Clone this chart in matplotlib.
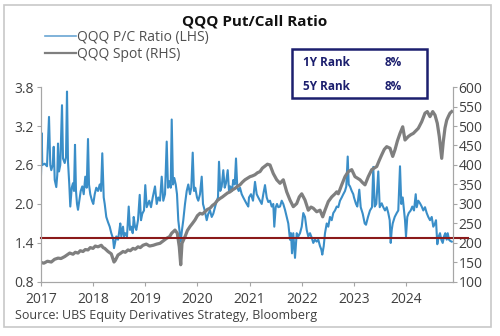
import matplotlib
matplotlib.use("Agg")
import matplotlib.pyplot as plt
import matplotlib.dates as mdates
import matplotlib.transforms as mtransforms
from matplotlib.lines import Line2D
from matplotlib.patches import Rectangle
import numpy as np
import pandas as pd

plt.rcParams["font.family"] = ["Open Sans", "DejaVu Sans"]

# days since 2017-01-01
pc_day = [0, 3, 5, 9, 26, 42, 56, 65, 72, 82, 89, 96, 107, 114, 119, 126, 135, 147, 154, 166,
          175, 182, 189, 198, 205, 215, 224, 231, 238, 245, 252, 259, 268, 278, 289, 299, 310,
          320, 329, 336, 345, 357, 366, 376, 387, 399, 411, 420, 429, 439, 446, 457, 469, 481,
          492, 504, 511, 518, 527, 539, 546, 555, 562, 574, 581, 590, 602, 614, 623, 632, 642,
          649, 658, 667, 679, 691, 700, 709, 721, 730, 740,
          758, 770, 782, 798, 810, 821, 833, 845, 856, 868, 880, 889, 898, 908, 915, 924, 933,
          943, 952, 961, 971, 978, 987, 996, 1008, 1020, 1031, 1043, 1052, 1062, 1071, 1080,
          1092, 1101, 1113, 1125, 1134, 1146, 1160, 1171, 1183, 1195, 1206, 1218, 1230, 1239,
          1246, 1255, 1265, 1276, 1286, 1295, 1307, 1316, 1325, 1337, 1346, 1356, 1365, 1374,
          1384, 1393, 1405, 1416, 1428, 1440, 1451,
          1456, 1470, 1484, 1498, 1510, 1521, 1533, 1545, 1556, 1568, 1580, 1591, 1603, 1615,
          1626, 1633, 1643, 1652, 1661, 1673, 1685, 1696, 1708, 1720, 1731, 1743, 1750, 1757,
          1766, 1778, 1790, 1801, 1813, 1825, 1836, 1848, 1860, 1871, 1883, 1895, 1906, 1918,
          1930, 1941, 1953, 1962, 1969, 1979, 1988, 2000, 2011, 2023, 2035, 2046, 2058, 2070,
          2081, 2093, 2105, 2116, 2128, 2137, 2147, 2154, 2163, 2175, 2186,
          2191, 2205, 2214, 2228, 2238, 2252, 2266, 2275, 2289, 2303, 2317, 2326, 2336, 2347,
          2361, 2371, 2385, 2396, 2408, 2420, 2431, 2441, 2448, 2455, 2462, 2476, 2490, 2501,
          2513, 2522, 2532, 2541, 2548, 2555, 2564, 2574, 2588, 2599, 2611, 2623, 2630, 2641,
          2653, 2665, 2676, 2688, 2700, 2711, 2723, 2735, 2746, 2758, 2765, 2774, 2784, 2793,
          2802, 2812, 2821, 2830, 2840, 2847, 2856, 2865, 2875]
pc_ratio = [2.45, 2.68, 3.09, 2.6, 2.62, 2.58, 3.34, 2.6, 2.52, 2.6, 2.88, 2.37, 2.26, 2.45, 2.93,
            2.5, 2.6, 3.52, 2.7, 2.63, 2.72, 3.73, 2.65, 2.3, 1.96, 2.25, 2.32, 2.2, 2.91, 2.2,
            2.0, 1.91, 2.05, 2.2, 2.27, 2.15, 2.42, 2.25, 3.0, 2.3, 2.15, 2.05, 2.0, 2.15, 2.25,
            2.2, 2.3, 2.2, 2.78, 2.1, 2.0, 1.8, 1.72, 1.65, 1.55, 1.47, 1.32, 1.4, 1.5, 1.45,
            1.55, 1.7, 1.5, 1.65, 1.5, 1.55, 1.5, 1.96, 1.6, 1.65, 1.55, 1.8, 1.65, 1.6, 1.75,
            2.14, 1.75, 1.85, 1.9, 2.29, 1.95,
            2.05, 1.95, 2.1, 2.27, 2.0, 2.1, 2.05, 2.42, 2.05, 2.15, 2.96, 2.25, 2.35, 2.25, 3.3,
            2.3, 2.4, 2.3, 2.15, 1.75, 1.55, 1.42, 1.6, 1.75, 2.0, 2.2, 2.3, 2.15, 2.25, 2.79,
            2.2, 2.25, 2.1, 2.05, 2.15, 2.42, 2.0, 1.9, 1.75, 1.85, 1.9, 1.8, 1.85, 1.95, 2.05,
            2.1, 2.65, 2.2, 2.27, 2.52, 2.25, 2.32, 2.52, 2.2, 2.27, 2.2, 2.37, 2.3, 2.7, 2.25,
            2.2, 2.25, 2.15, 2.1, 2.05, 2.0, 1.96,
            2.1, 2.15, 2.05, 2.34, 2.15, 2.1, 2.05, 2.0, 2.15, 2.29, 2.1, 2.03, 2.05, 1.96, 2.0,
            1.65, 1.95, 2.0, 1.95, 1.96, 2.05, 2.0, 1.91, 1.8, 1.7, 1.45, 1.55, 1.24, 1.55, 1.17,
            1.55, 1.5, 1.55, 1.65, 1.86, 1.8, 1.6, 1.5, 1.55, 1.48, 1.4, 1.45, 1.42, 1.45, 1.35,
            1.3, 1.22, 1.35, 1.55, 1.7, 1.65, 1.8, 1.75, 1.86, 1.9, 1.96, 1.95, 2.05, 2.1, 2.15,
            2.2, 2.27, 2.73, 2.3, 2.27, 2.2, 2.15,
            2.1, 2.0, 1.96, 2.22, 1.95, 1.85, 1.7, 1.68, 1.8, 1.9, 1.95, 2.57, 1.96, 2.0, 2.5,
            1.95, 2.01, 1.95, 1.9, 1.95, 1.86, 1.75, 1.4, 1.6, 1.7, 1.8, 1.86, 1.9, 2.58, 2.0,
            2.1, 1.9, 1.75, 1.5, 1.8, 1.86, 1.9, 1.96, 1.9, 2.15, 1.95, 2.05, 2.01, 1.96, 1.9,
            1.95, 1.86, 1.8, 1.75, 1.8, 1.65, 1.7, 1.75, 1.38, 1.5, 1.55, 1.45, 1.4, 1.5, 1.55,
            1.45, 1.55, 1.45, 1.43, 1.42]

spot_day = [0, 20, 45, 72, 95, 119, 140, 166, 185, 201, 224, 240, 259, 275, 294, 310, 329, 345,
            364, 380, 399, 422, 435, 446, 469, 492, 511, 520, 539, 556, 574, 590, 609, 625,
            644, 660, 679, 695, 714, 737, 760, 786, 810, 833, 855, 880, 900, 915, 938, 954,
            968, 978, 987, 1008, 1025, 1043, 1060, 1078, 1095, 1113, 1130, 1148, 1165, 1183,
            1200, 1218, 1235, 1253, 1270, 1288, 1305, 1323, 1340, 1358, 1375, 1393, 1410, 1428,
            1445, 1463, 1480, 1498, 1515, 1533, 1550, 1568, 1585, 1603, 1626, 1650, 1673, 1696,
            1720, 1743, 1766, 1790, 1808, 1825, 1848, 1871, 1890, 1906, 1930, 1953, 1972, 1988,
            2011, 2035, 2058, 2070, 2081, 2105, 2128, 2151, 2175, 2198, 2215, 2233, 2250, 2268,
            2291, 2315, 2333, 2350, 2368, 2385, 2403, 2420, 2443, 2462, 2478, 2495, 2513, 2532,
            2548, 2571, 2590, 2606, 2625, 2641, 2665, 2688, 2704, 2723, 2742, 2758, 2774, 2788,
            2805, 2816, 2828, 2840, 2852, 2863, 2875]
spot_px = [150, 148, 153, 151, 158, 161, 160, 165, 170, 174, 171, 176, 174, 180, 178, 183, 182,
           188, 186, 192, 190, 194, 188, 186, 178, 172, 151, 155, 169, 173, 178, 176, 182, 180,
           186, 184, 190, 188, 194, 197, 192, 194, 197, 199, 205, 212, 216, 225, 233, 225,
           190, 144, 199, 216, 232, 242, 250, 259, 270, 276, 274, 280, 286, 289, 296, 301,
           309, 314, 318, 323, 328, 331, 336, 340, 345, 349, 356, 362,
           366, 370, 372, 375, 380, 383, 392, 397, 402, 400, 378, 362, 353, 362,
           331, 310, 293, 301, 318, 326, 310, 284, 292, 289, 280, 284, 267, 284,
           306, 318, 326, 331, 326, 349, 370, 383, 388, 370, 366, 362, 355, 349,
           370, 388, 392, 396, 412, 426, 440, 447, 443, 422, 439, 462, 481, 498,
           464, 473, 478, 481, 488, 494, 511, 533, 537, 524, 537, 528, 507, 473,
           417, 460, 495, 515, 525, 533, 537]

threshold = 1.48
rank_labels = ["1Y Rank", "5Y Rank"]
rank_values = ["8%", "8%"]

start = pd.Timestamp("2017-01-01")
pc_dates = start + pd.to_timedelta(pc_day, unit="D")
spot_dates = start + pd.to_timedelta(spot_day, unit="D")

fig = plt.figure(figsize=(5, 3.36), dpi=100)
ax = fig.add_axes([0.082, 0.161, 0.824, 0.580])
ax2 = ax.twinx()

blue = "#3a8ec8"
grey = "#7f7f7f"
navy = "#1c1f6e"
axis_col = "#a6a6a6"
text_col = "#404040"

ax.plot(pc_dates, pc_ratio, color=blue, lw=1.5)
ax2.plot(spot_dates, spot_px, color=grey, lw=2.3)
trans = mtransforms.blended_transform_factory(ax.transAxes, ax.transData)
ax2.plot([0, 1.036], [threshold, threshold], color="#8b1a1a", lw=1.5,
         transform=trans, clip_on=False)

ax.set_xlim(start, start + pd.Timedelta(days=2884))
ax.set_ylim(0.8, 3.8)
ax2.set_ylim(100, 600)
ax.set_yticks(np.arange(0.8, 3.81, 0.6))
ax.set_yticklabels([f"{v:.1f}" for v in np.arange(0.8, 3.81, 0.6)])
ax2.set_yticks(np.arange(100, 601, 50))
ax.xaxis.set_major_locator(mdates.YearLocator())
ax.xaxis.set_major_formatter(mdates.DateFormatter("%Y"))

for a in (ax, ax2):
    for s in a.spines.values():
        s.set_color(axis_col)
    a.spines["top"].set_visible(False)
    a.tick_params(colors=axis_col, labelcolor=text_col, labelsize=10, length=3, width=0.8)
ax.tick_params(axis="y", pad=2)
ax2.tick_params(axis="y", pad=1)
ax.tick_params(axis="x", pad=4)

fig.text(0.51, 0.935, "QQQ Put/Call Ratio", ha="center", va="center",
         fontsize=11, fontweight="bold", color="#111111")

handles = [Line2D([], [], color="#6aa6d3", lw=1.2), Line2D([], [], color=grey, lw=1.6)]
fig.legend(handles, ["QQQ P/C Ratio (LHS)", "QQQ Spot (RHS)"], loc="upper left",
           bbox_to_anchor=(0.09, 0.91), frameon=False, fontsize=10, handlelength=2.2,
           handletextpad=0.1, labelspacing=0.12, borderaxespad=0, borderpad=0,
           labelcolor="#505050")

fig.add_artist(Rectangle((292 / 500, 1 - 98 / 336), 135 / 500, 49 / 336,
                         transform=fig.transFigure, fill=False, ec=navy, lw=1.8))
for i, (lab, val) in enumerate(zip(rank_labels, rank_values)):
    y = 1 - (62 + 24 * i) / 336
    fig.text(303 / 500, y, lab, ha="left", va="center", fontsize=8.5,
             fontweight="bold", color=navy)
    fig.text(385 / 500, y, val, ha="left", va="center", fontsize=8.5,
             fontweight="bold", color=navy)

fig.text(15 / 500, 1 - 316 / 336, "Source: UBS Equity Derivatives Strategy, Bloomberg",
         ha="left", va="center", fontsize=9, color=text_col)

fig.add_artist(Rectangle((4 / 500, 1 - 327 / 336), 487 / 500, 322 / 336,
                         transform=fig.transFigure, fill=False, ec="#c8c8c8", lw=1.2))

fig.savefig("out.png", dpi=100)
